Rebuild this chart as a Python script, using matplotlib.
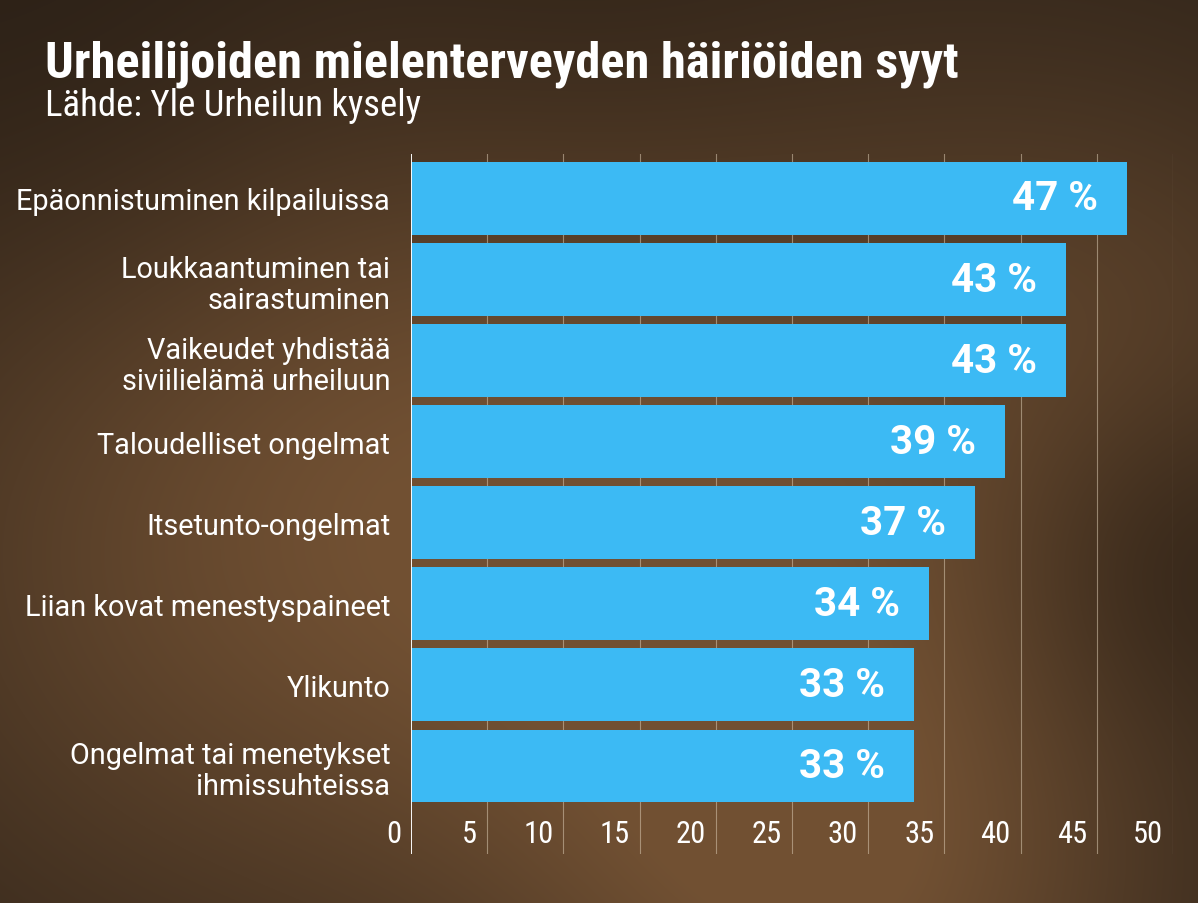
import numpy as np
import matplotlib
matplotlib.use("Agg")
import matplotlib.pyplot as plt
from matplotlib import font_manager, transforms

# data
categories = [
    "Epäonnistuminen kilpailuissa",
    "Loukkaantuminen tai\nsairastuminen",
    "Vaikeudet yhdistää\nsiviilielämä urheiluun",
    "Taloudelliset ongelmat",
    "Itsetunto-ongelmat",
    "Liian kovat menestyspaineet",
    "Ylikunto",
    "Ongelmat tai menetykset\nihmissuhteissa",
]
values = [47, 43, 43, 39, 37, 34, 33, 33]
xticks = [0, 5, 10, 15, 20, 25, 30, 35, 40, 45, 50]

title = "Urheilijoiden mielenterveyden häiriöiden syyt"
subtitle = "Lähde: Yle Urheilun kysely"

W, H = 1198, 904
fonts = font_manager.fontManager.ttflist
names = {f.name for f in fonts}
narrow = None
for cand in ["Roboto Condensed", "Liberation Sans Narrow", "DejaVu Sans Condensed"]:
    if cand in names:
        narrow = cand
        break
if narrow is None:
    narrow = "DejaVu Sans"
main_font = "Roboto" if "Roboto" in names else "DejaVu Sans"

fig = plt.figure(figsize=(W / 100, H / 100), dpi=100)

# smooth brown backdrop
bg = fig.add_axes([0, 0, 1, 1])
yy, xx = np.mgrid[0:H, 0:W]
def blob(cx, cy, s):
    return np.exp(-((xx - cx) ** 2 + (yy - cy) ** 2) / (2 * s ** 2))
base = np.array([46, 35, 25], float)
light = (0.7 * blob(250, 540, 320) + 0.6 * blob(700, 440, 300)
         + 0.8 * blob(850, 900, 240) + 0.4 * blob(1150, 330, 200))
light = np.clip(light, 0, 1.0)
img = base[None, None, :] + light[..., None] * np.array([68, 46, 26], float)
dark = 0.7 * blob(1180, 560, 120) + 0.5 * blob(60, 30, 220) + 0.4 * blob(600, 0, 180)
img = img * (1 - 0.35 * dark[..., None])
bg.imshow(np.clip(img, 0, 255).astype(np.uint8), aspect="auto")
bg.axis("off")

# chart area: x0 at px 411, x50 at px 1173, y from px 155 to 855
left, right, top, bottom = 411, 1173, 155, 855
ax = fig.add_axes([left / W, 1 - bottom / H, (right - left) / W, (bottom - top) / H])
ax.patch.set_alpha(0)
step = 81.07
ax.set_ylim((bottom - 199.5) / step, (top - 199.5) / step)
ax.set_xlim(0, 50)

ypos = np.arange(len(categories))
ax.barh(ypos, values, height=0.9, color="#3cbaf4", zorder=2)

for x in xticks[1:]:
    ax.axvline(x, color="#d8c8b0", lw=0.8, alpha=0.55, zorder=1)
ax.axvline(-0.05, color="white", lw=2.8, zorder=3)

ax.set_yticks(ypos)
ax.set_yticklabels(categories, fontsize=20.8, color="white", family=main_font,
                   linespacing=1.15, ha="right")
ax.tick_params(axis="y", length=0, pad=15)
ax.set_xticks([])
for s in ax.spines.values():
    s.set_visible(False)

tr = transforms.blended_transform_factory(ax.transData, ax.transAxes)
tr = transforms.offset_copy(tr, fig=fig, x=-10, y=0, units="dots")
for x in xticks:
    ax.text(x, (bottom - 835) / (bottom - top), str(x), transform=tr,
            ha="right", va="center", fontsize=22, color="white",
            family=narrow, fontstretch="condensed")

for y, v in zip(ypos, values):
    ax.annotate(f"{v} %", (v, y), xytext=(-21, 0), textcoords="offset points",
                ha="right", va="center", fontsize=29, fontweight="bold",
                color="white", family=main_font, zorder=4)

fig.text(45 / W, 1 - 77 / H, title, fontsize=36.3, fontweight="bold",
         color="white", family=narrow, fontstretch="condensed",
         va="baseline", ha="left")
fig.text(45 / W, 1 - 116 / H, subtitle, fontsize=26.5, color="white",
         family=narrow, fontstretch="condensed", va="baseline", ha="left")

fig.savefig("out.png", dpi=100)
